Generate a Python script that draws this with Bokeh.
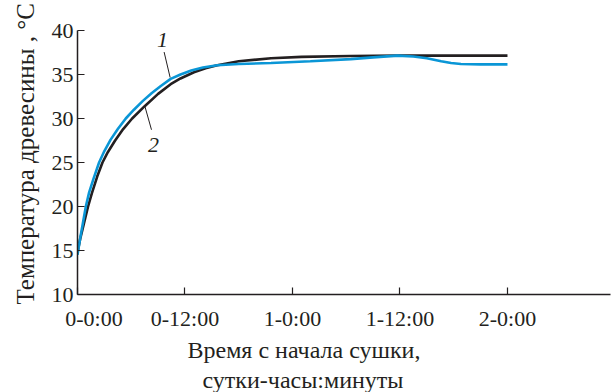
from bokeh.plotting import figure
from bokeh.models import FixedTicker, Label, ColumnDataSource, Title
from bokeh.embed import file_html
from bokeh.resources import INLINE

# ---- data (hours since start, temperature °C) ----
t1 = [0, 0.3, 0.6, 0.93, 1.3, 1.8, 2.41, 3.0, 3.7, 4.5, 5.39, 6.3, 7.3, 8.3, 9.3, 10.4, 11.5, 12.7, 14, 15.6,
      18, 21.6, 26, 30.5, 33, 35.7, 37.5, 39, 40.6, 41.7, 42.8, 45, 48]
v1 = [14.5, 16.4, 18.1, 20.0, 21.6, 23.2, 25.0, 26.3, 27.6, 28.8, 30.0, 31.0, 32.0, 32.9, 33.7, 34.5, 35.0, 35.45, 35.8, 36.05,
      36.2, 36.3, 36.5, 36.75, 36.95, 37.15, 37.05, 36.85, 36.5, 36.3, 36.2, 36.15, 36.15]
t2 = [0, 0.3, 0.7, 1.18, 1.6, 2.2, 2.79, 3.4, 4.2, 5.1, 6.1, 7.5, 9, 10.4, 11.5, 13, 14.3, 15.6, 18, 21.6, 25, 30.5, 36, 48]
v2 = [14.8, 16.3, 18.0, 20.0, 21.5, 23.4, 25.0, 26.2, 27.5, 28.8, 30.0, 31.4, 32.8, 33.9, 34.55, 35.25, 35.7, 36.05, 36.5, 36.85, 37.0, 37.1, 37.15, 37.15]

x_ticks = [0, 12, 24, 36, 48]
# the first label sits shifted right of its tick in the original (padded with no-break spaces)
x_tick_labels = ["\u00a0\u00a0\u00a0\u00a0\u00a0\u00a00-0:00", "0-12:00", "1-0:00", "1-12:00", "2-0:00"]
y_ticks = [10, 15, 20, 25, 30, 35, 40]

curve_labels = ["1", "2"]
label_x = [9.49, 8.48]
label_y = [38.87, 27.0]
leader_x0 = [9.67, 7.51]
leader_y0 = [37.55, 31.43]
leader_x1 = [10.34, 8.26]
leader_y1 = [34.66, 28.72]

y_title = "Температура древесины , °С"
x_title_1 = "Время с начала сушки,"
x_title_2 = "сутки-часы:минуты"

FONT = "Liberation Serif"
BLUE = "#0a96d6"
BLACK = "#231f20"

p = figure(width=613, height=392, output_backend="svg", toolbar_location=None,
           x_range=(0, 59.5), y_range=(10, 40),
           min_border_left=77, min_border_right=3, min_border_top=30, min_border_bottom=96)
p.outline_line_color = None
p.xgrid.visible = False
p.ygrid.visible = False

for ax in (p.xaxis[0], p.yaxis[0]):
    ax.axis_line_color = BLACK
    ax.axis_line_width = 1.5
    ax.major_tick_line_color = BLACK
    ax.major_tick_line_width = 1.2
    ax.major_tick_in = 7
    ax.major_tick_out = 0
    ax.minor_tick_line_color = None
    ax.major_label_text_font = FONT
    ax.major_label_text_font_size = "22px"
    ax.major_label_text_color = BLACK

p.xaxis[0].ticker = FixedTicker(ticks=x_ticks)
p.xaxis[0].major_label_overrides = {t: l for t, l in zip(x_ticks, x_tick_labels)}
p.xaxis[0].major_label_standoff = 11
p.yaxis[0].ticker = FixedTicker(ticks=y_ticks)
p.yaxis[0].major_label_standoff = 4

p.line(t2, v2, line_color=BLACK, line_width=2.6)
p.line(t1, v1, line_color=BLUE, line_width=2.6)

src = ColumnDataSource(dict(x0=leader_x0, y0=leader_y0, x1=leader_x1, y1=leader_y1))
p.segment(x0="x0", y0="y0", x1="x1", y1="y1", source=src, line_color=BLACK, line_width=1)

for txt, lx, ly in zip(curve_labels, label_x, label_y):
    p.add_layout(Label(x=lx, y=ly, text=txt, text_font=FONT, text_font_style="italic",
                       text_font_size="22px", text_align="center", text_baseline="middle",
                       text_color=BLACK))

p.add_layout(Title(text=y_title, text_font=FONT, text_font_size="25px", text_font_style="normal",
                   text_color=BLACK, align="left", offset=-10, standoff=19), "left")
p.add_layout(Title(text=x_title_1, text_font=FONT, text_font_size="24px", text_font_style="normal",
                   text_color=BLACK, align="left", offset=110, standoff=3), "below")
p.add_layout(Title(text=x_title_2, text_font=FONT, text_font_size="24px", text_font_style="normal",
                   text_color=BLACK, align="left", offset=125, standoff=0), "below")

open("out.html", "w").write(file_html(p, INLINE))
